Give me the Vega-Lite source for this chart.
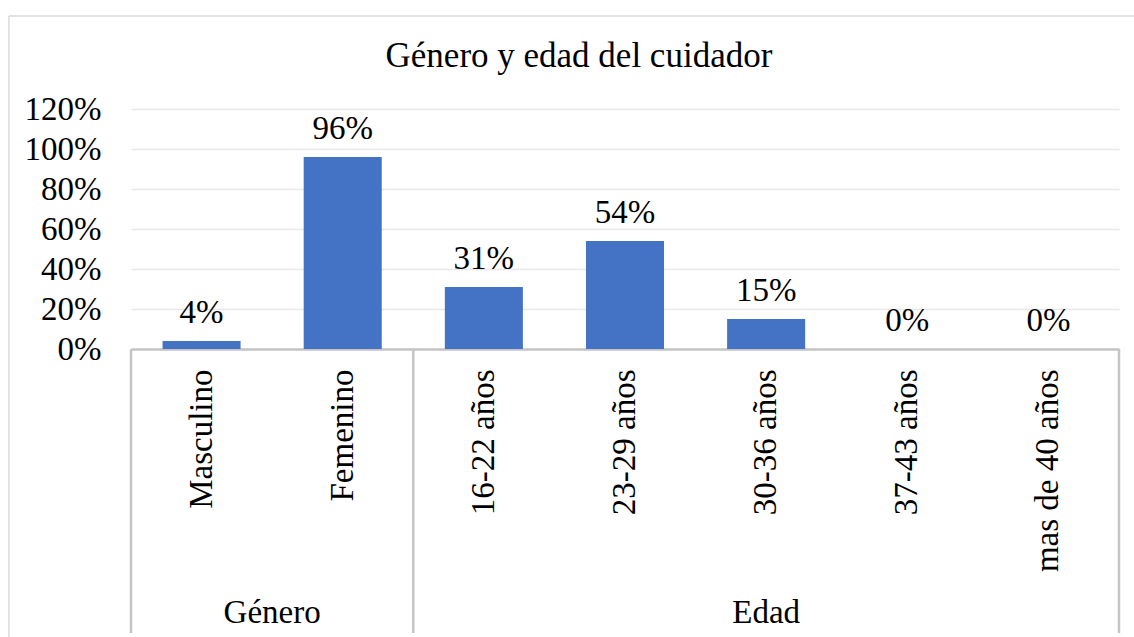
{
  "$schema": "https://vega.github.io/schema/vega-lite/v6.json",
  "width": 988,
  "height": 240,
  "padding": {"left": 8, "top": 15, "right": 0, "bottom": 0},
  "background": "white",
  "config": {
    "font": "Liberation Serif",
    "view": {"stroke": null},
    "axisY": {"labelOverlap": false, "labelBound": false}
  },
  "title": {
    "text": "Género y edad del cuidador",
    "font": "Liberation Serif",
    "fontSize": 35,
    "fontWeight": "normal",
    "color": "black",
    "anchor": "middle",
    "frame": "bounds",
    "baseline": "alphabetic",
    "offset": 0,
    "dy": 87,
    "dx": 7
  },
  "data": {
    "values": [
      {"grupo": "Género", "categoria": "Masculino", "valor": 0.04},
      {"grupo": "Género", "categoria": "Femenino", "valor": 0.96},
      {"grupo": "Edad", "categoria": "16-22 años", "valor": 0.31},
      {"grupo": "Edad", "categoria": "23-29 años", "valor": 0.54},
      {"grupo": "Edad", "categoria": "30-36 años", "valor": 0.15},
      {"grupo": "Edad", "categoria": "37-43 años", "valor": 0.0},
      {"grupo": "Edad", "categoria": "mas de 40 años", "valor": 0.0}
    ]
  },
  "layer": [
    {
      "mark": {"type": "bar", "color": "#4472C4", "width": {"band": 0.553}},
      "encoding": {
        "x": {
          "field": "categoria",
          "type": "nominal",
          "sort": null,
          "scale": {
            "domain": ["Masculino", "Femenino", "16-22 años", "23-29 años", "30-36 años", "37-43 años", "mas de 40 años"],
            "paddingInner": 0,
            "paddingOuter": 0
          },
          "axis": {
            "title": null,
            "labelAngle": -90,
            "labelFont": "Liberation Serif",
            "labelFontSize": 33,
            "labelColor": "black",
            "labelPadding": 20,
            "labelLimit": 0,
            "labelOverlap": false,
            "ticks": false,
            "grid": false,
            "domainColor": "#c4c4c4",
            "domainWidth": 2.5
          }
        },
        "y": {
          "field": "valor",
          "type": "quantitative",
          "scale": {"domain": [0, 1.2], "nice": false},
          "axis": {
            "title": null,
            "format": ".0%",
            "values": [0, 0.2, 0.4, 0.6, 0.8, 1.0, 1.2],
            "tickCount": 7,
            "labelFont": "Liberation Serif",
            "labelFontSize": 33,
            "labelColor": "black",
            "labelPadding": 30,
            "labelOverlap": false,
            "ticks": false,
            "domain": false,
            "gridColor": "#e8e8e8",
            "gridWidth": 1.5
          }
        }
      }
    },
    {
      "mark": {"type": "text", "fontSize": 33, "font": "Liberation Serif", "baseline": "alphabetic", "dy": -18, "color": "black"},
      "encoding": {
        "x": {"field": "categoria", "type": "nominal", "sort": null},
        "y": {
          "field": "valor",
          "type": "quantitative",
          "axis": {
            "title": null,
            "format": ".0%",
            "values": [0, 0.2, 0.4, 0.6, 0.8, 1.0, 1.2],
            "tickCount": 7,
            "labelFont": "Liberation Serif",
            "labelFontSize": 33,
            "labelColor": "black",
            "labelPadding": 30,
            "labelOverlap": false,
            "ticks": false,
            "domain": false,
            "gridColor": "#e8e8e8",
            "gridWidth": 1.5
          }
        },
        "text": {"field": "valor", "type": "quantitative", "format": ".0%"}
      }
    },
    {
      "data": {"values": [{"linea": "separador"}]},
      "mark": {"type": "rule", "color": "#c4c4c4", "strokeWidth": 2.5},
      "encoding": {
        "x": {"datum": "Masculino", "type": "nominal", "bandPosition": 0},
        "y": {"datum": 0},
        "y2": {"datum": -1.42}
      }
    },
    {
      "data": {"values": [{"linea": "separador"}]},
      "mark": {"type": "rule", "color": "#c4c4c4", "strokeWidth": 2.5},
      "encoding": {
        "x": {"datum": "16-22 años", "type": "nominal", "bandPosition": 0},
        "y": {"datum": 0},
        "y2": {"datum": -1.42}
      }
    },
    {
      "data": {"values": [{"linea": "separador"}]},
      "mark": {"type": "rule", "color": "#c4c4c4", "strokeWidth": 2.5},
      "encoding": {
        "x": {"datum": "mas de 40 años", "type": "nominal", "bandPosition": 1},
        "y": {"datum": 0},
        "y2": {"datum": -1.42}
      }
    },
    {
      "data": {"values": [{"grupo": "Género"}]},
      "mark": {"type": "text", "fontSize": 33, "font": "Liberation Serif", "baseline": "middle", "color": "black"},
      "encoding": {
        "x": {"datum": "Femenino", "type": "nominal", "bandPosition": 0},
        "y": {"datum": -1.32},
        "text": {"field": "grupo"}
      }
    },
    {
      "data": {"values": [{"grupo": "Edad"}]},
      "mark": {"type": "text", "fontSize": 33, "font": "Liberation Serif", "baseline": "middle", "color": "black"},
      "encoding": {
        "x": {"datum": "30-36 años", "type": "nominal", "bandPosition": 0.5},
        "y": {"datum": -1.32},
        "text": {"field": "grupo"}
      }
    },
    {
      "data": {"values": [{"linea": "borde"}]},
      "mark": {"type": "rule", "color": "#d9d9d9", "strokeWidth": 1.5},
      "encoding": {
        "x": {"datum": "Masculino", "type": "nominal", "bandPosition": -0.865},
        "y": {"datum": 1.665},
        "y2": {"datum": -1.45}
      }
    },
    {
      "data": {"values": [{"linea": "borde"}]},
      "mark": {"type": "rule", "color": "#d9d9d9", "strokeWidth": 1.5},
      "encoding": {
        "x": {"datum": "Masculino", "type": "nominal", "bandPosition": -0.865},
        "x2": {"datum": "mas de 40 años", "bandPosition": 1.113},
        "y": {"datum": 1.665}
      }
    }
  ]
}
